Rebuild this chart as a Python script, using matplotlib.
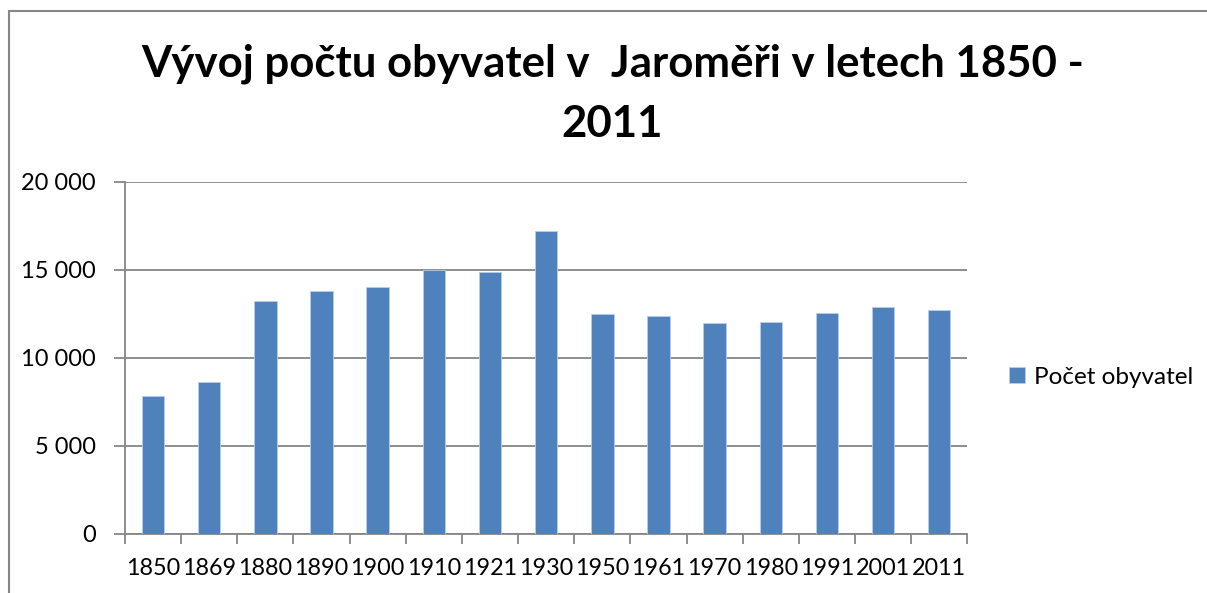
import matplotlib
matplotlib.use('Agg')
import matplotlib.pyplot as plt
from matplotlib.patches import Rectangle
from matplotlib.ticker import FuncFormatter, MultipleLocator

# data
years = ['1850', '1869', '1880', '1890', '1900', '1910', '1921', '1930',
         '1950', '1961', '1970', '1980', '1991', '2001', '2011']
population = [7860, 8640, 13240, 13790, 14030, 15000, 14900, 17230,
              12520, 12390, 11970, 12030, 12540, 12900, 12730]
series_name = 'Počet obyvatel'
title = 'Vývoj počtu obyvatel v  Jaroměři v letech 1850 -\n2011'

bar_color = '#4F81BD'
grid_color = '#868686'

plt.rcParams['font.family'] = ['Lato', 'DejaVu Sans']

fig = plt.figure(figsize=(12.07, 5.93), dpi=100)
ax = fig.add_axes([0.1036, 0.0995, 0.6978, 0.5936])

x = list(range(len(years)))
ax.bar(x, population, width=0.4, color=bar_color, edgecolor='#B9CDE5',
       linewidth=0.6, label=series_name, zorder=3)

ax.set_xlim(-0.5, len(years) - 0.5)
ax.set_ylim(0, 20000)
ax.yaxis.set_major_locator(MultipleLocator(5000))
ax.yaxis.set_major_formatter(FuncFormatter(lambda v, p: '{:,.0f}'.format(v).replace(',', ' ')))
ax.grid(axis='y', color=grid_color, linewidth=1.3, zorder=0)

ax.set_xticks(x)
ax.set_xticklabels(years)
ax.set_xticks([i - 0.5 for i in range(len(years) + 1)], minor=True)
ax.tick_params(axis='x', which='major', length=0, pad=17, labelsize=16.8)
ax.tick_params(axis='x', which='minor', length=7, width=1.3, color=grid_color, direction='out')
ax.tick_params(axis='y', length=8, width=1.3, color=grid_color, pad=13, labelsize=17)

for s in ['top', 'right']:
    ax.spines[s].set_visible(False)
for s in ['left', 'bottom']:
    ax.spines[s].set_color(grid_color)
    ax.spines[s].set_linewidth(1.3)

fig.text(0.5075, 0.842, title, ha='center', va='center', fontsize=31.5,
         fontweight='bold', linespacing=1.6)

leg = fig.legend(loc='center left', bbox_to_anchor=(0.818, 0.364), frameon=False,
                 fontsize=17.5, handlelength=0.65, handleheight=0.65, handletextpad=0.35)

# chart area border
fig.patches.append(Rectangle((8.5 / 1207, -0.1), 1.2, 1 - 11.5 / 593 + 0.1,
                             transform=fig.transFigure, fill=False,
                             edgecolor=grid_color, linewidth=1.5))

fig.savefig('out.png', dpi=100)
